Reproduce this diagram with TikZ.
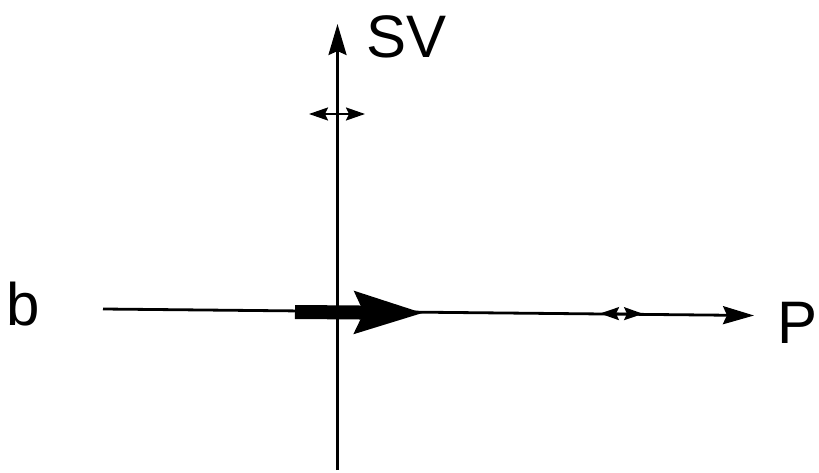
\documentclass[tikz,border=0pt]{standalone}
\usepackage{fontspec}
\setmainfont{Liberation Sans}
\usetikzlibrary{arrows.meta}
\tikzset{
	axis/.style={line width=2.8pt, -{Stealth[length=31pt, width=18pt, inset=4pt]}},
	drift/.style={line width=14pt, -{Stealth[length=68pt, width=40pt, inset=8pt]}},
	jitter/.style={line width=2pt, {Stealth[length=19pt, width=13pt, inset=3pt]}-{Stealth[length=19pt, width=13pt, inset=3pt]}},
	lbl/.style={inner sep=0pt, font=\fontsize{60}{72}\selectfont}
}
\begin{document}
\begin{tikzpicture}[x=1pt, y=-1pt]
	\useasboundingbox (0,0) rectangle (819,473);
	% axes
	\coordinate (svbot) at (337.5,470);
	\coordinate (svtop) at (337.5,24);
	\coordinate (pleft) at (103,309);
	\coordinate (ptip) at (754,315.5);
	\draw[axis] (svbot) -- (svtop);
	\draw[axis] (pleft) -- (ptip);
	% labels
	\node[lbl, anchor=base west] (sv) at (366,58) {SV};
	\node[lbl, anchor=base west] (b) at (6,325) {b};
	\node[lbl, anchor=base west] (p) at (777,343) {P};
	% mean shift
	\coordinate (drfrom) at (295,312);
	\coordinate (drto) at (424,313);
	\draw[drift] (drfrom) -- (drto);
	% spread
	\coordinate (jsvl) at (309,114);
	\coordinate (jsvr) at (365,114);
	\draw[jitter] (jsvl) -- (jsvr);
	\coordinate (jpl) at (600,313.5);
	\coordinate (jpr) at (643,313.8);
	\draw[jitter] (jpl) -- (jpr);
\end{tikzpicture}
\end{document}
